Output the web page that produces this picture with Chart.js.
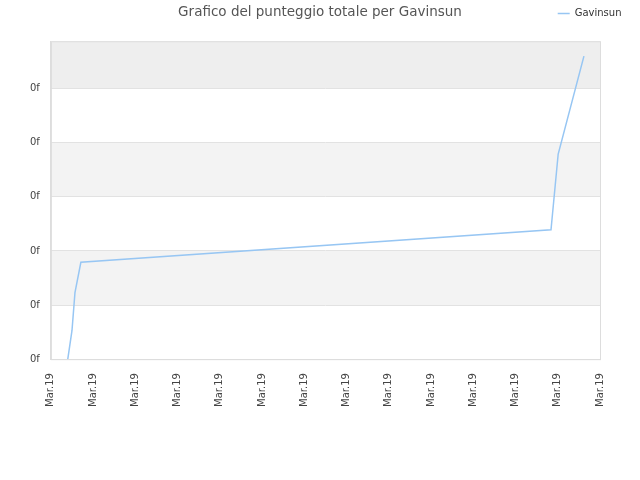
<!DOCTYPE html>
<html>
<head>
<meta charset="utf-8">
<script src="https://cdn.jsdelivr.net/npm/chart.js@4/dist/chart.umd.min.js"></script>
<style>
  html, body { margin: 0; padding: 0; background: #fff; }
  #wrap { width: 640px; height: 480px; }
</style>
</head>
<body>
<div id="wrap"><canvas id="scoreChart"></canvas></div>
<script>
// Dati
const xTickLabels = ['Mar.19', 'Mar.19', 'Mar.19', 'Mar.19', 'Mar.19', 'Mar.19', 'Mar.19',
  'Mar.19', 'Mar.19', 'Mar.19', 'Mar.19', 'Mar.19', 'Mar.19', 'Mar.19'];
const yTickLabels = ['0f', '0f', '0f', '0f', '0f', '0f'];
const timePos = [0.40, 0.50, 0.57, 0.71, 11.84, 12.01, 12.62];
const totalScore = [0, 0.53, 1.23, 1.79, 2.39, 3.79, 5.60];

const fontFamily = "'DejaVu Sans', Verdana, sans-serif";

// Fasce alternate dietro la griglia + bordo dell'area
const bandsPlugin = {
  id: 'bands',
  beforeDraw(chart) {
    const { ctx, chartArea: a, scales: { y } } = chart;
    const ticks = y.ticks.map(t => t.value).concat([y.max]);
    ctx.save();
    for (let i = 0; i < ticks.length - 1; i++) {
      if (i % 2 === 0) continue;
      const top = y.getPixelForValue(ticks[i + 1]);
      const bottom = y.getPixelForValue(ticks[i]);
      ctx.fillStyle = i === ticks.length - 2 ? '#eeeeee' : '#f3f3f3';
      ctx.fillRect(a.left, top, a.right - a.left, bottom - top);
    }
    ctx.restore();
  },
  afterDraw(chart) {
    const { ctx, chartArea: a } = chart;
    ctx.save();
    ctx.strokeStyle = '#dddddd';
    ctx.lineWidth = 1;
    ctx.strokeRect(a.left + 0.5, a.top + 0.5, a.right - a.left, a.bottom - a.top);
    ctx.restore();
  }
};

// Legenda sulla riga del titolo (in alto a destra), titolo centrato sulla pagina
const legendRow = {
  id: 'legendRow',
  afterLayout(chart) {
    const lg = chart.legend;
    const h = lg.bottom - lg.top;
    lg.top = 8;
    lg.bottom = lg.top + h;
    lg.left += 22;
    lg.right += 22;
    const tb = chart.titleBlock;
    tb.left = 0;
    tb.right = chart.width;
    tb.width = chart.width;
  }
};

const ctx = document.getElementById('scoreChart').getContext('2d');
new Chart(ctx, {
  type: 'line',
  data: {
    datasets: [{
      label: 'Gavinsun',
      data: timePos.map((x, i) => ({ x, y: totalScore[i] })),
      borderColor: '#97c6f3',
      backgroundColor: '#97c6f3',
      borderWidth: 1.5,
      pointRadius: 0,
      tension: 0,
      fill: false
    }]
  },
  options: {
    responsive: true,
    maintainAspectRatio: false,
    animation: false,
    layout: { padding: { left: 19, right: 40, top: 0, bottom: 59 } },
    plugins: {
      title: {
        display: true,
        text: 'Grafico del punteggio totale per Gavinsun',
        color: '#555555',
        font: { family: fontFamily, size: 13.5, weight: 'normal' },
        padding: { top: 4.5, bottom: 0 }
      },
      legend: {
        position: 'top',
        align: 'end',
        labels: {
          usePointStyle: true,
          pointStyle: 'line',
          pointStyleWidth: 12,
          boxHeight: 10,
          padding: 0.5,
          color: '#333333',
          font: { family: fontFamily, size: 10 }
        }
      },
      tooltip: { enabled: false }
    },
    scales: {
      x: {
        type: 'linear',
        min: 0,
        max: 13,
        grid: { display: false, drawTicks: false },
        border: { color: '#dddddd' },
        ticks: {
          stepSize: 1,
          autoSkip: false,
          maxRotation: 90,
          minRotation: 90,
          padding: 14,
          color: '#444444',
          font: { family: fontFamily, size: 10 },
          callback: (value) => xTickLabels[value]
        }
      },
      y: {
        min: 0,
        max: 5.875,
        afterBuildTicks: (scale) => {
          scale.ticks = scale.ticks.filter(t => Number.isInteger(t.value));
        },
        grid: { color: '#e2e2e2', drawTicks: false },
        border: { color: '#dddddd' },
        ticks: {
          stepSize: 1,
          padding: 11,
          color: '#444444',
          font: { family: fontFamily, size: 10 },
          callback: (value, index) => yTickLabels[index]
        }
      }
    }
  },
  plugins: [bandsPlugin, legendRow]
});
</script>
</body>
</html>
